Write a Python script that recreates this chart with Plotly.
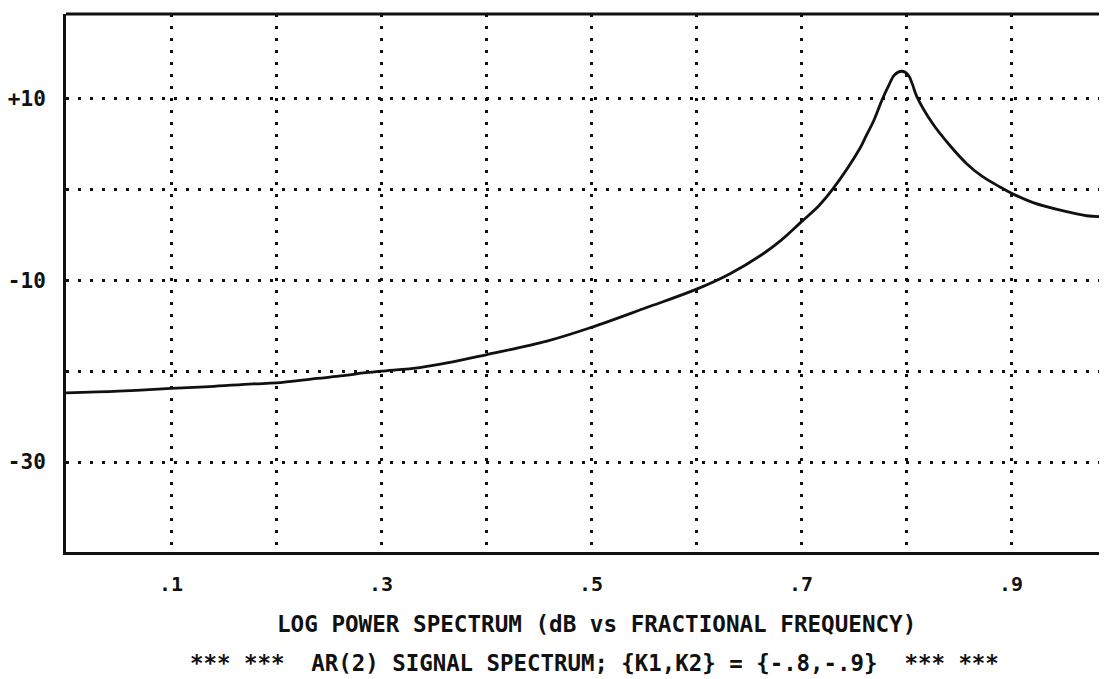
import plotly.graph_objects as go

# Fractional frequency (x) and log power in dB (y)
freq = [0.000, 0.050, 0.100, 0.137, 0.178, 0.200, 0.239, 0.264, 0.283, 0.300,
        0.337, 0.363, 0.400, 0.458, 0.500, 0.553, 0.600, 0.632, 0.665, 0.680,
        0.700, 0.717, 0.730, 0.756, 0.762, 0.769, 0.777, 0.783, 0.789, 0.796,
        0.802, 0.806, 0.810, 0.825, 0.842, 0.858, 0.873, 0.889, 0.900, 0.921,
        0.953, 0.972, 0.991]
power_db = [-22.4, -22.2, -21.9, -21.7, -21.4, -21.3, -20.8, -20.5, -20.2, -20.0,
            -19.6, -19.1, -18.2, -16.7, -15.2, -13.0, -11.0, -9.3, -7.0, -5.7,
            -3.6, -1.8, 0.0, 4.5, 5.9, 7.5, 9.8, 11.3, 12.6, 13.0,
            12.6, 11.6, 10.3, 7.3, 4.8, 2.8, 1.4, 0.3, -0.4, -1.45,
            -2.45, -2.9, -3.0]

x_tick_vals = [0.1, 0.3, 0.5, 0.7, 0.9]
x_tick_text = [".1", ".3", ".5", ".7", ".9"]
x_minor_vals = [0.2, 0.4, 0.6, 0.8]
y_tick_vals = [10, -10, -30]
y_tick_text = ["+10", "-10", "-30"]
y_minor_vals = [0, -20]

title_text = "LOG POWER SPECTRUM (dB vs FRACTIONAL FREQUENCY)"
subtitle_text = "*** ***  AR(2) SIGNAL SPECTRUM; {K1,K2} = {-.8,-.9}  *** ***"

FONT = "DejaVu Sans Mono"
INK = "#111111"
grid = dict(showgrid=True, gridcolor=INK, gridwidth=2.8, griddash="2.8px,9.2px")

fig = go.Figure()
fig.add_trace(go.Scatter(
    x=freq, y=power_db, mode="lines",
    line=dict(color=INK, width=2.8, shape="spline", smoothing=1.0),
    hoverinfo="skip", showlegend=False,
))

fig.update_layout(
    width=1099, height=671,
    margin=dict(l=58, r=0, t=6, b=127),
    paper_bgcolor="white", plot_bgcolor="white",
    font=dict(family=FONT, color=INK),
    showlegend=False,
    xaxis=dict(
        range=[0, 0.9914], tickmode="array", tickvals=x_tick_vals, ticktext=x_tick_text,
        ticks="", ticklabelstandoff=12,
        tickfont=dict(size=20, family=FONT, color=INK, weight="bold"),
        showline=True, linecolor=INK, linewidth=3, zeroline=False,
        minor=dict(tickvals=x_minor_vals, **grid),
        **grid,
    ),
    yaxis=dict(
        range=[-39.9, 19.3], tickmode="array", tickvals=y_tick_vals, ticktext=y_tick_text,
        ticks="", ticklabelstandoff=13,
        tickfont=dict(size=21, family=FONT, color=INK, weight="bold"),
        showline=True, linecolor=INK, linewidth=3, zeroline=False,
        minor=dict(tickvals=y_minor_vals, **grid),
        **grid,
    ),
    shapes=[dict(type="line", xref="paper", yref="paper", x0=0, x1=1.02, y0=1, y1=1,
                 line=dict(color=INK, width=3))],
    annotations=[
        dict(text=title_text, xref="paper", yref="paper", x=0.510, y=-0.1338,
             showarrow=False, xanchor="center", yanchor="middle",
             font=dict(size=22.6, family=FONT, color=INK, weight="bold")),
        dict(text=subtitle_text, xref="paper", yref="paper", x=0.508, y=-0.2063,
             showarrow=False, xanchor="center", yanchor="middle",
             font=dict(size=22.4, family=FONT, color=INK, weight="bold")),
    ],
)

fig.write_html("out.html")
